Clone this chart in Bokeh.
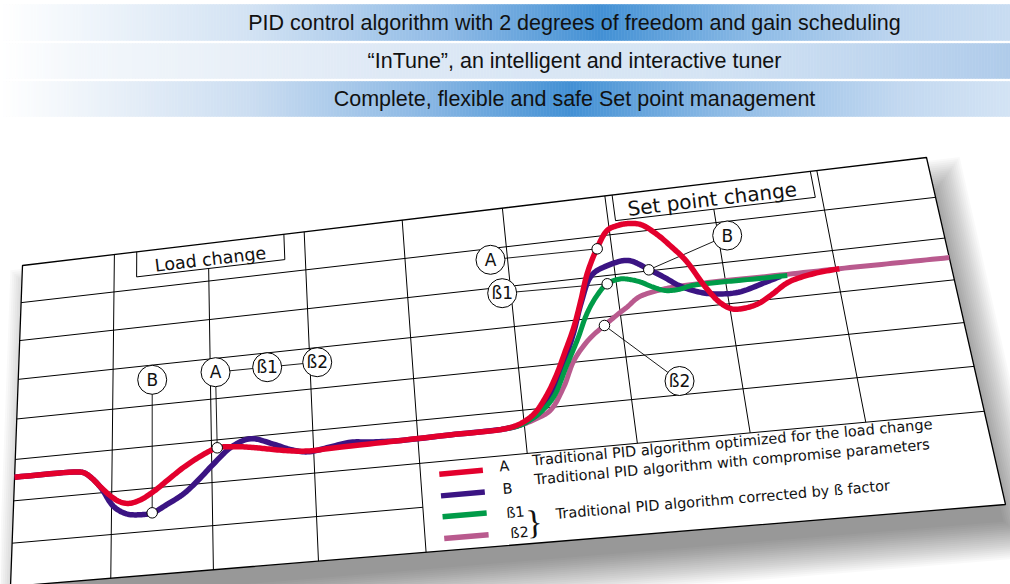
import math
import numpy as np
from bokeh.plotting import figure
from bokeh.models import Range1d
from bokeh.embed import file_html
from bokeh.resources import INLINE
from bokeh.core.properties import value

# ---------------- chart data ----------------
# x = time in grid columns (0..9), y = process value in grid rows (0..8)
red_t = [0.00, 0.65, 0.72, 0.80, 0.89, 1.00, 1.08, 1.17, 1.28, 1.41,
         1.57, 1.72, 1.90, 2.06, 2.22, 2.40, 2.55, 2.75, 2.94, 3.15,
         3.36, 3.84, 4.30, 4.82, 4.95, 5.05, 5.13, 5.25, 5.35, 5.45,
         5.555, 5.65, 5.74, 5.86, 5.98, 6.08, 6.18, 6.30, 6.43, 6.55,
         6.67, 6.81, 6.92, 7.02, 7.14, 7.26, 7.40, 7.56, 7.80, 8.03]
red_v = [2.57, 2.55, 2.51, 2.36, 2.13, 1.88, 1.75, 1.69, 1.74, 1.90,
         2.17, 2.42, 2.66, 2.81, 2.80, 2.74, 2.67, 2.58, 2.53, 2.54,
         2.55, 2.57, 2.59, 2.61, 2.68, 2.80, 2.96, 3.35, 3.77, 4.28,
         4.83, 5.46, 6.10, 6.69, 7.12, 7.21, 7.23, 7.17, 6.90, 6.55,
         6.15, 5.46, 5.05, 4.87, 4.86, 4.93, 5.12, 5.36, 5.50, 5.55]

purple_t = [0.00, 0.65, 0.72, 0.80, 0.89, 1.02, 1.15, 1.29, 1.41, 1.55,
            1.72, 1.87, 2.02, 2.20, 2.39, 2.60, 2.78, 2.94, 3.15, 3.36,
            3.55, 3.84, 4.30, 4.82, 4.95, 5.05, 5.145, 5.30, 5.45, 5.55,
            5.65, 5.78, 5.95, 6.14, 6.32, 6.45, 6.57, 6.72, 6.86, 7.10,
            7.36, 7.50]
purple_v = [2.57, 2.55, 2.51, 2.36, 2.12, 1.65, 1.45, 1.40, 1.42, 1.58,
            1.80, 2.10, 2.44, 2.80, 2.95, 2.78, 2.60, 2.51, 2.57, 2.64,
            2.60, 2.57, 2.59, 2.61, 2.66, 2.76, 2.90, 3.40, 4.15, 4.72,
            5.40, 6.05, 6.25, 6.31, 6.03, 5.80, 5.57, 5.38, 5.28, 5.25,
            5.42, 5.52]

green_t = [4.82, 4.95, 5.05, 5.17, 5.30, 5.45, 5.58, 5.69, 5.80, 5.915,
           6.04, 6.13, 6.225, 6.33, 6.44, 6.56, 6.69, 6.90, 7.12, 7.56]
green_v = [2.61, 2.65, 2.75, 2.93, 3.25, 3.95, 4.55, 5.12, 5.52, 5.80,
           5.88, 5.84, 5.75, 5.60, 5.48, 5.47, 5.53, 5.54, 5.53, 5.52]

pink_t = [4.82, 4.95, 5.10, 5.25, 5.40, 5.52, 5.68, 5.84, 6.00, 6.07,
          6.19, 6.35, 6.51, 6.88, 7.56, 8.03, 8.50, 9.00]
pink_v = [2.61, 2.65, 2.76, 2.93, 3.45, 4.04, 4.50, 4.80, 5.07, 5.18,
          5.39, 5.49, 5.54, 5.56, 5.55, 5.55, 5.54, 5.53]

series_labels = ["A", "B", "ß1", "ß2"]
legend_texts = ["Traditional PID algorithm optimized for the load change",
                "Traditional PID algorithm with compromise parameters",
                "Traditional PID algorithm corrected by ß factor"]
banner_texts = ["PID control algorithm with 2 degrees of freedom and gain scheduling",
                "\u201cInTune\u201d, an intelligent and interactive tuner",
                "Complete, flexible and safe Set point management"]
box_texts = ["Load change", "Set point change"]

# points on curves that are called out (grid units)
load_marks = {"B": (1.406, 1.42), "A": (2.057, 2.81)}
sp_marks = {"A": (5.863, 6.687), "B": (6.317, 6.026), "ß1": (5.915, 5.797), "ß2": (5.84, 4.797)}

# ---------------- layout / style ----------------
RED, PURPLE, GREEN, PINK = "#E3002D", "#3B1483", "#009B48", "#B95A8E"
FONT = "DejaVu Sans"
W_IMG, H_IMG = 1010.0, 584.0

PAPER = [(22.0, 265.0), (926.0, 157.0), (1005.0, 504.0), (10.0, 586.0)]  # TL, TR, BR, BL
(x0, y0), (x1, y1), (x2, y2), (x3, y3) = PAPER
dx1, dx2, sx = x1 - x2, x3 - x2, x0 - x1 + x2 - x3
dy1, dy2, sy = y1 - y2, y3 - y2, y0 - y1 + y2 - y3
det = dx1 * dy2 - dx2 * dy1
G = (sx * dy2 - dx2 * sy) / det
Hh = (dx1 * sy - sx * dy1) / det
A_ = x1 - x0 + G * x1
B_ = x3 - x0 + Hh * x3
C_ = x0
D_ = y1 - y0 + G * y1
E_ = y3 - y0 + Hh * y3
F_ = y0
NU, NV = 9.0, 8.0


def P(u, v):
    """grid units -> page coordinates (perspective of the tilted sheet)"""
    u = np.asarray(u, float)
    v = np.asarray(v, float)
    s = u / NU
    t = (NV - v) / NV
    den = G * s + Hh * t + 1.0
    X = (A_ * s + B_ * t + C_) / den
    Y = (D_ * s + E_ * t + F_) / den
    return X, H_IMG - Y


def ang(u, v):
    xa, ya = P(u - 0.05, v)
    xb, yb = P(u + 0.05, v)
    return float(math.atan2(float(yb - ya), float(xb - xa)))


def scr(x, y):
    return x, H_IMG - y


def smooth(X, Y, n=10):
    """centripetal Catmull-Rom drawing path through the given points"""
    pts = np.column_stack([X, Y]).astype(float)
    pp = np.vstack([2 * pts[0] - pts[1], pts, 2 * pts[-1] - pts[-2]])
    out = []
    for i in range(1, len(pp) - 2):
        P0, P1, P2, P3 = pp[i - 1], pp[i], pp[i + 1], pp[i + 2]
        t0 = 0.0
        t1 = t0 + max(np.linalg.norm(P1 - P0), 1e-6) ** 0.5
        t2 = t1 + max(np.linalg.norm(P2 - P1), 1e-6) ** 0.5
        t3 = t2 + max(np.linalg.norm(P3 - P2), 1e-6) ** 0.5
        for t in np.linspace(t1, t2, n, endpoint=False):
            A1 = (t1 - t) / (t1 - t0) * P0 + (t - t0) / (t1 - t0) * P1
            A2 = (t2 - t) / (t2 - t1) * P1 + (t - t1) / (t2 - t1) * P2
            A3 = (t3 - t) / (t3 - t2) * P2 + (t - t2) / (t3 - t2) * P3
            B1 = (t2 - t) / (t2 - t0) * A1 + (t - t0) / (t2 - t0) * A2
            B2 = (t3 - t) / (t3 - t1) * A2 + (t - t1) / (t3 - t1) * A3
            out.append((t2 - t) / (t2 - t1) * B1 + (t - t1) / (t2 - t1) * B2)
    out.append(pp[-2])
    out = np.array(out)
    return out[:, 0], out[:, 1]


p = figure(width=1010, height=584, x_range=Range1d(0, W_IMG), y_range=Range1d(0, H_IMG),
           output_backend="svg", toolbar_location=None, min_border=0)
p.axis.visible = False
p.grid.visible = False
p.outline_line_color = None
p.background_fill_color = "white"
p.border_fill_color = "white"

# ---------------- banners ----------------
def hex2rgb(hc):
    hc = hc.lstrip("#")
    return [int(hc[i:i + 2], 16) for i in (0, 2, 4)]


def grad(stops, x):
    for i in range(len(stops) - 1):
        xa, ca = stops[i]
        xb, cb = stops[i + 1]
        if xa <= x <= xb:
            f = (x - xa) / (xb - xa)
            ra, rb = hex2rgb(ca), hex2rgb(cb)
            return "#%02x%02x%02x" % tuple(int(round(ra[k] + (rb[k] - ra[k]) * f)) for k in range(3))
    return stops[-1][1]


bands = [
    (4, 40, [(0, "#FFFFFF"), (60, "#F4F8FC"), (250, "#D2E2F3"), (450, "#8DB9E5"), (600, "#4290D4"),
             (760, "#8FBCE6"), (900, "#BDD5EF"), (1010, "#C8DCF1")]),
    (43, 78, [(0, "#FFFFFF"), (80, "#F3F7FB"), (400, "#DDE8F5"), (700, "#D5E4F4"), (900, "#BCD4EE"),
              (1010, "#AFCBEA")]),
    (81, 116, [(0, "#FFFFFF"), (60, "#F3F7FB"), (250, "#CBDDF1"), (430, "#88B6E3"), (570, "#4290D4"),
               (720, "#8DBAE5"), (900, "#C2D8F0"), (1010, "#D3E3F4")]),
]
for (top, bot, stops) in bands:
    lefts = np.arange(0, 1010, 3)
    cols = [grad(stops, float(l) + 1.5) for l in lefts]
    p.quad(left=lefts, right=lefts + 3, top=H_IMG - top, bottom=H_IMG - bot,
           fill_color=cols, line_color=cols, line_width=0.6)

p.text(x=[574, 574, 574], y=[H_IMG - 22.5, H_IMG - 60.5, H_IMG - 98.5], text=banner_texts,
       text_font=value("Liberation Sans"),
       text_font_size="21.5px", text_align="center", text_baseline="middle", text_color="#111111")

# ---------------- shadow ----------------
def offset_quad(pts, r):
    n = len(pts)
    lines = []
    for i in range(n):
        pa = np.array(pts[i], float)
        pb = np.array(pts[(i + 1) % n], float)
        dd = pb - pa
        dd = dd / np.linalg.norm(dd)
        nrm = np.array([-dd[1], dd[0]])
        lines.append((pa + r * nrm, dd))
    out = []
    for i in range(n):
        p1, d1 = lines[i - 1]
        p2, d2 = lines[i]
        M = np.array([d1, -d2]).T
        k = np.linalg.solve(M, p2 - p1)
        out.append(p1 + k[0] * d1)
    return out


quad_plot = [scr(x, y) for (x, y) in PAPER]
shadow_base = [(x + 13, y - 28) for (x, y) in quad_plot]
for r in np.arange(-12, 28, 2):
    q = offset_quad(shadow_base, float(r))
    p.patch([pt[0] for pt in q], [pt[1] for pt in q], fill_color="black", fill_alpha=0.023,
            line_color=None)

# ---------------- paper ----------------
p.patch([pt[0] for pt in quad_plot], [pt[1] for pt in quad_plot], fill_color="white",
        line_color="black", line_width=1.3)

segs = []
for vv in range(1, 8):
    segs.append(((0, vv), (4 if vv == 1 else 9, vv)))
segs += [((1, 0), (1, 8)), ((2, 0), (2, 7.33)), ((3, 0), (3, 8)), ((4, 0), (4, 8)),
         ((5, 2), (5, 8)), ((6, 2), (6, 8)), ((7, 2), (7, 7.34)), ((8, 2), (8, 8))]
# label boxes
segs += [((1.24, 8), (1.24, 7.33)), ((1.24, 7.33), (2.79, 7.33)), ((2.79, 7.33), (2.79, 8)),
         ((6.07, 8), (6.07, 7.34)), ((6.07, 7.34), (7.94, 7.34)), ((7.94, 7.34), (7.94, 8))]
gx, gy = [], []
for (ua, va), (ub, vb) in segs:
    X, Y = P([ua, ub], [va, vb])
    gx.append(list(X))
    gy.append(list(Y))
p.multi_line(gx, gy, line_color="black", line_width=1)

# box texts
for txt, (uu, vv), size in [(box_texts[0], (2.02, 7.57), "17.5px"), (box_texts[1], (7.0, 7.60), "20px")]:
    X, Y = P(uu, vv)
    p.text(x=[float(X)], y=[float(Y)], text=[txt], angle=ang(uu, vv), text_font=value(FONT),
           text_font_size=size, text_align="center", text_baseline="middle", text_color="#111111")

# ---------------- connectors ----------------
load_circ = {"B": (1.406, 4.631), "A": (2.053, 4.655), "ß1": (2.574, 4.645), "ß2": (3.073, 4.639)}
sp_circ = {"A": (4.835, 6.716), "ß1": (4.916, 5.85), "B": (7.083, 6.65), "ß2": (6.451, 3.319)}
conn = [(load_circ["B"], load_marks["B"]), (load_circ["A"], load_marks["A"]),
        (load_circ["A"], load_circ["ß2"])]
for k in ["A", "B", "ß1", "ß2"]:
    conn.append((sp_circ[k], sp_marks[k]))
cx, cy = [], []
for (ua, va), (ub, vb) in conn:
    X, Y = P([ua, ub], [va, vb])
    cx.append(list(X))
    cy.append(list(Y))
p.multi_line(cx, cy, line_color="black", line_width=0.9)

# ---------------- curves ----------------
for tt, vv, col, lw in [(pink_t, pink_v, PINK, 5.0), (purple_t, purple_v, PURPLE, 5.5),
                        (green_t, green_v, GREEN, 5.0), (red_t, red_v, RED, 5.5)]:
    X, Y = P(tt, vv)
    SX, SY = smooth(X, Y)
    p.line(SX, SY, line_color=col, line_width=lw, line_join="round")

# markers on curves
mk = list(load_marks.values()) + list(sp_marks.values())
X, Y = P([m[0] for m in mk], [m[1] for m in mk])
p.scatter(X, Y, marker="circle", size=10.5, fill_color="white", line_color="black", line_width=1)

# label circles
labs = list(load_circ.items()) + list(sp_circ.items())
X, Y = P([l[1][0] for l in labs], [l[1][1] for l in labs])
p.scatter(X, Y, marker="circle", size=29, fill_color="white", line_color="black", line_width=1)
p.text(x=X, y=Y, text=[l[0] for l in labs], text_font=value(FONT), text_font_size="17px",
       text_align="center", text_baseline="middle", text_color="#111111")

# ---------------- legend ----------------
leg_v = [1.71, 1.22, 0.75, 0.27]
leg_cols = [RED, PURPLE, GREEN, PINK]
lx, ly = [], []
for vv in leg_v:
    X, Y = P([4.175, 4.58], [vv, vv])
    lx.append(list(X))
    ly.append(list(Y))
p.multi_line(lx, ly, line_color=leg_cols, line_width=5.5)

lab_pos = [(4.78, 1.76), (4.79, 1.25), (4.84, 0.71), (4.86, 0.26)]
X, Y = P([q[0] for q in lab_pos], [q[1] for q in lab_pos])
p.text(x=X, y=Y, text=series_labels, angle=[ang(q[0], q[1]) for q in lab_pos], text_font=value(FONT),
       text_font_size="14.5px", text_align="center", text_baseline="middle", text_color="#111111")

txt_pos = [(5.04, 1.83), (5.04, 1.40), (5.20, 0.60)]
X, Y = P([q[0] for q in txt_pos], [q[1] for q in txt_pos])
p.text(x=X, y=Y, text=legend_texts, angle=[ang(q[0], q[1]) for q in txt_pos], text_font=value(FONT),
       text_font_size="14.5px", text_align="left", text_baseline="middle", text_color="#111111")

X, Y = P(5.0, 0.46)
p.text(x=[float(X)], y=[float(Y)], text=["}"], angle=ang(5.0, 0.46),
       text_font=value("Liberation Serif"), text_font_size="34px", text_align="center",
       text_baseline="middle", text_color="#111111")

open("out.html", "w").write(file_html(p, INLINE))
